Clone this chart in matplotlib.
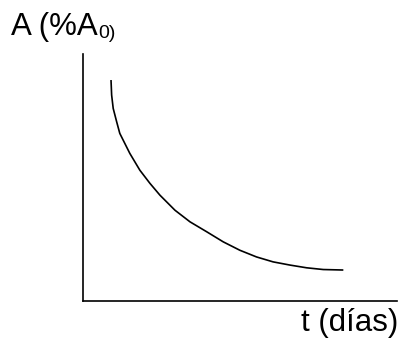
import matplotlib.pyplot as plt

# curve (t in arbitrary days, A as % of A0)
t_dias = [8.8, 9.0, 9.5, 10.6, 11.6, 14.8, 18.0, 21.2, 24.4, 29.2,
          34.0, 39.3, 44.6, 49.9, 55.2, 60.5, 65.9, 71.2, 76.5, 82.9]
a_pct = [89.5, 83.4, 78.0, 72.6, 67.9, 59.8, 53.0, 47.7, 42.9, 36.8,
         32.1, 28.1, 24.0, 20.6, 17.9, 15.9, 14.6, 13.5, 12.8, 12.6]

ylabel_main = 'A (%A'
ylabel_sub = '0)'
xlabel = 't (días)'

plt.rcParams['font.family'] = ['Liberation Sans', 'DejaVu Sans']

fig = plt.figure(figsize=(4.03, 3.38), dpi=100)
ax = fig.add_axes([0.207, 0.109, 0.778, 0.731])

ax.plot(t_dias, a_pct, color='black', lw=1.2, solid_capstyle='butt',
        solid_joinstyle='round')
ax.set_xlim(0, 100)
ax.set_ylim(0, 100)

ax.spines['top'].set_visible(False)
ax.spines['right'].set_visible(False)
ax.spines['left'].set_linewidth(1.2)
ax.spines['bottom'].set_linewidth(1.2)
ax.set_xticks([])
ax.set_yticks([])

txt = fig.text(0.028, 0.896, ylabel_main, fontsize=22.5, va='baseline', ha='left')
ax.annotate(ylabel_sub, xy=(1, 0), xycoords=txt, xytext=(0.5, 0),
            textcoords='offset points', fontsize=14, va='bottom', ha='left')

fig.text(0.988, 0.022, xlabel, fontsize=22.5, va='baseline', ha='right')

fig.savefig('out.png', dpi=100)
